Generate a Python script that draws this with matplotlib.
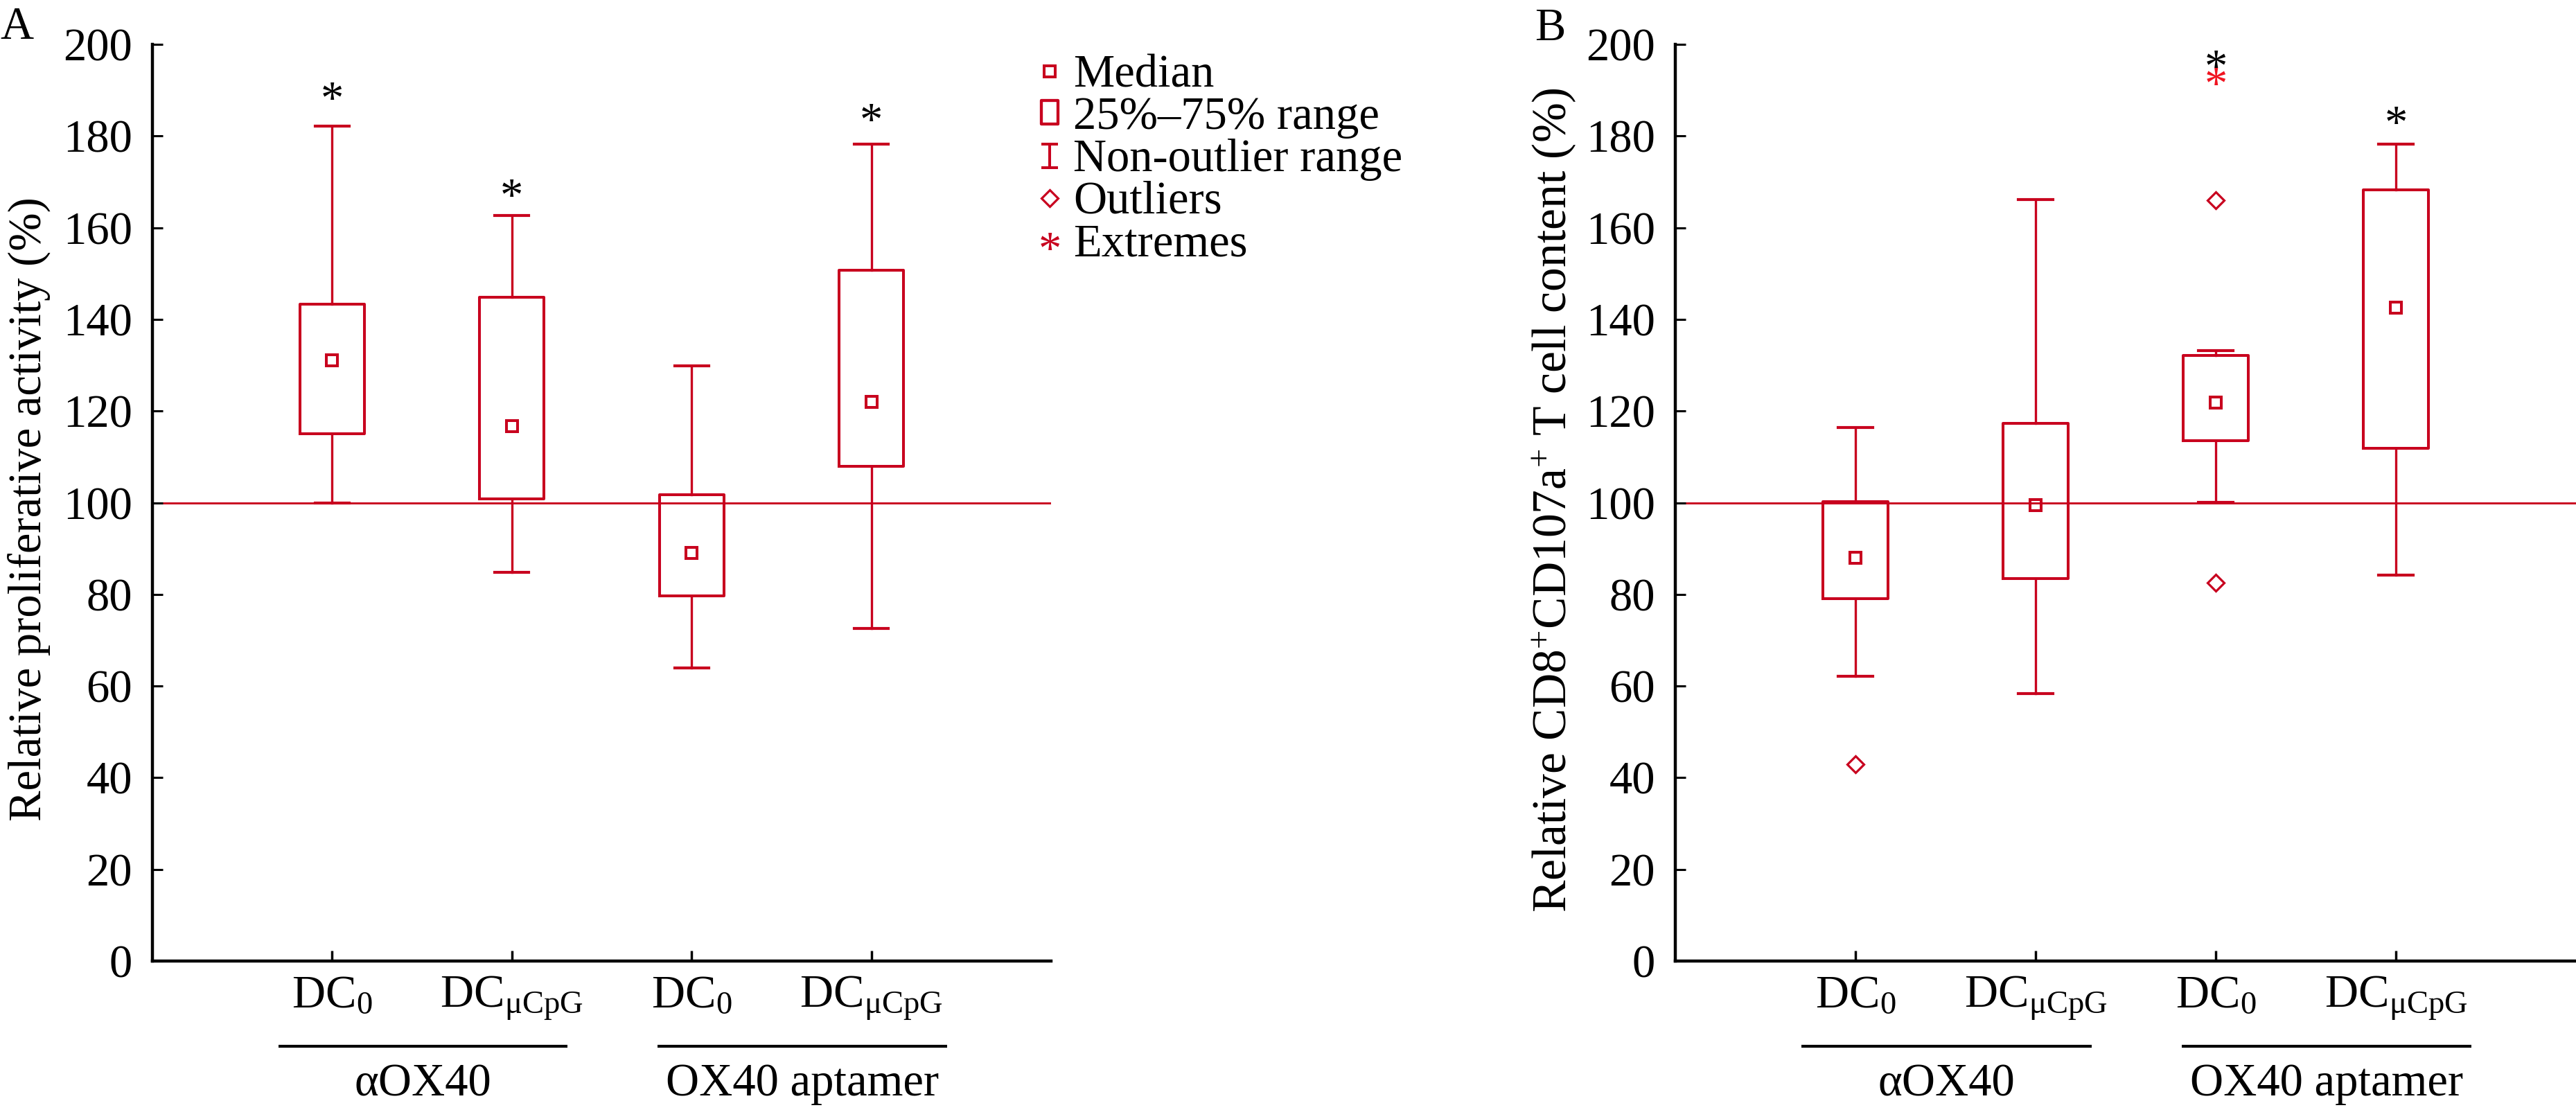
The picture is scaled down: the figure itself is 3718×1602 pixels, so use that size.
import matplotlib
matplotlib.use('Agg')
import matplotlib.pyplot as plt
from matplotlib.path import Path
from matplotlib.transforms import blended_transform_factory

plt.rcParams['font.family'] = ['Liberation Serif', 'DejaVu Serif']
plt.rcParams['mathtext.fontset'] = 'custom'
plt.rcParams['mathtext.rm'] = 'Liberation Serif'
plt.rcParams['mathtext.it'] = 'Liberation Serif:italic'
plt.rcParams['mathtext.bf'] = 'Liberation Serif:bold'

RED = '#C8001E'
EXTREME_RED = '#F01420'
FS = 48

# categories
positions = [1, 2, 3, 4]
tick_labels = [r'DC$_{\rm 0}$', r'DC$_{\rm μCpG}$', r'DC$_{\rm 0}$', r'DC$_{\rm μCpG}$']
group_labels = ['αOX40', 'OX40 aptamer']
legend_labels = ['Median', '25%–75% range', 'Non-outlier range', 'Outliers', 'Extremes']

# panel A: relative proliferative activity (%)
a_whislo = [100.0, 84.8, 63.9, 72.6]
a_q1 = [115.0, 100.8, 79.7, 107.9]
a_med = [131.1, 116.7, 89.0, 122.0]
a_q3 = [143.3, 144.8, 101.7, 150.7]
a_whishi = [182.2, 162.7, 129.9, 178.2]
a_outliers = [[], [], [], []]
a_extremes = [[], [], [], []]
a_signif = [189.8, 168.5, None, 185.0]

# panel B: relative CD8+CD107a+ T cell content (%)
b_whislo = [62.1, 58.3, 100.1, 84.2]
b_q1 = [79.0, 83.4, 113.5, 111.9]
b_med = [88.0, 99.4, 121.8, 142.6]
b_q3 = [100.3, 117.3, 132.1, 168.3]
b_whishi = [116.4, 166.2, 133.2, 178.3]
b_outliers = [[43.0], [], [166.0, 82.5], []]
b_extremes = [[], [], [192.9], []]
b_signif = [None, None, 196.7, 184.5]

W, H = 3718, 1602


def fx(px):
    return px / W


def fy(py):
    return 1 - py / H


def draw_panel(ax, whislo, q1, med, q3, whishi, outliers, extremes, signif):
    stats = []
    for lo, a, m, b, hi, fl in zip(whislo, q1, med, q3, whishi, outliers):
        stats.append(dict(whislo=lo, q1=a, med=m, q3=b, whishi=hi, fliers=fl))
    ax.axhline(100, color=RED, lw=2.1, zorder=1)
    ax.bxp(stats, positions=positions, widths=0.36, capwidths=0.19,
           showfliers=True,
           boxprops=dict(color=RED, lw=2.9),
           whiskerprops=dict(color=RED, lw=2.4),
           capprops=dict(color=RED, lw=3.0),
           medianprops=dict(visible=False),
           flierprops=dict(marker='D', markersize=12, markerfacecolor='none',
                           markeredgecolor=RED, markeredgewidth=2.3, linestyle='none'))
    ax.plot(positions, med, ls='none', marker='s', ms=11.5, mfc='none',
            mec=RED, mew=2.9, zorder=3)

    # asterisk glyph sits ~4.7 units above its baseline at this size
    for x, vals in zip(positions, extremes):
        for v in vals:
            ax.text(x, v - 4.7, '*', color=EXTREME_RED, ha='center',
                    va='baseline', fontsize=FS, zorder=4)
    for x, v in zip(positions, signif):
        if v is not None:
            ax.text(x, v - 4.7, '*', color='black', ha='center',
                    va='baseline', fontsize=FS, zorder=5)

    ax.set_xlim(0, 5)
    ax.set_ylim(0, 200)
    ax.set_yticks(range(0, 201, 20))
    ax.set_xticks(positions)
    ax.set_xticklabels(tick_labels)
    for s in ['top', 'right']:
        ax.spines[s].set_visible(False)
    for s in ['left', 'bottom']:
        ax.spines[s].set_linewidth(3.2)
    ax.tick_params(axis='y', direction='in', length=11, width=2.2,
                   labelsize=FS, pad=21)
    ax.tick_params(axis='x', direction='in', length=11, width=2.5,
                   labelsize=FS, pad=14)

    trans = blended_transform_factory(ax.transData, ax.transAxes)
    spans = [(0.70, 2.31), (2.81, 4.42)]
    for (x0, x1), lab in zip(spans, group_labels):
        ax.plot([x0, x1], [-0.093, -0.093], color='black', lw=3,
                transform=trans, clip_on=False, solid_capstyle='butt')
        ax.text((x0 + x1) / 2, -0.147, lab, transform=trans, ha='center',
                va='baseline', fontsize=FS)


fig = plt.figure(figsize=(W / 100, H / 100), dpi=100)
ax_a = fig.add_axes([fx(220), fy(1387), fx(1517) - fx(220), fy(64) - fy(1387)])
ax_b = fig.add_axes([fx(2418), fy(1387), 1 - fx(2418), fy(64) - fy(1387)])

draw_panel(ax_a, a_whislo, a_q1, a_med, a_q3, a_whishi, a_outliers, a_extremes, a_signif)
draw_panel(ax_b, b_whislo, b_q1, b_med, b_q3, b_whishi, b_outliers, b_extremes, b_signif)

fig.text(fx(42), fy(735), 'Relative proliferative activity (%)', rotation=90,
         ha='center', va='center', fontsize=FS)
fig.text(fx(2243), fy(722), r'Relative CD8$^{+}$CD107a$^{+}$ T cell content (%)',
         rotation=90, ha='center', va='center', fontsize=FS + 2)
fig.text(fx(0), fy(56), 'A', ha='left', va='baseline', fontsize=FS)
fig.text(fx(2215), fy(58), 'B', ha='left', va='baseline', fontsize=FS)

# legend drawn by hand, Statistica style
rect = Path([(-0.35, -0.5), (0.35, -0.5), (0.35, 0.5), (-0.35, 0.5), (-0.35, -0.5)],
            [Path.MOVETO, Path.LINETO, Path.LINETO, Path.LINETO, Path.CLOSEPOLY])
ibar = Path([(-0.35, 0.5), (0.35, 0.5), (0, 0.5), (0, -0.5), (-0.35, -0.5), (0.35, -0.5)],
            [Path.MOVETO, Path.LINETO, Path.MOVETO, Path.LINETO, Path.MOVETO, Path.LINETO])
mx = fx(1515)
tx = fx(1549)
baselines = [125, 186, 247, 308, 369]
centers = [103, 162, 225, 286, 349]
marker_styles = [dict(marker='s', ms=11, mew=2.9),
                 dict(marker=rect, ms=25, mew=3.1),
                 dict(marker=ibar, ms=25, mew=2.9),
                 dict(marker='D', ms=12, mew=2.3)]
for style, c in zip(marker_styles, centers[:4]):
    fig.add_artist(plt.Line2D([mx], [fy(c)], ls='none', mfc='none', mec=RED,
                              transform=fig.transFigure, **style))
fig.text(mx, fy(centers[4] + 31), '*', color=RED, ha='center', va='baseline', fontsize=FS)
for lab, b in zip(legend_labels, baselines):
    fig.text(tx, fy(b), lab, ha='left', va='baseline', fontsize=FS)

fig.savefig('out.png', dpi=100)
